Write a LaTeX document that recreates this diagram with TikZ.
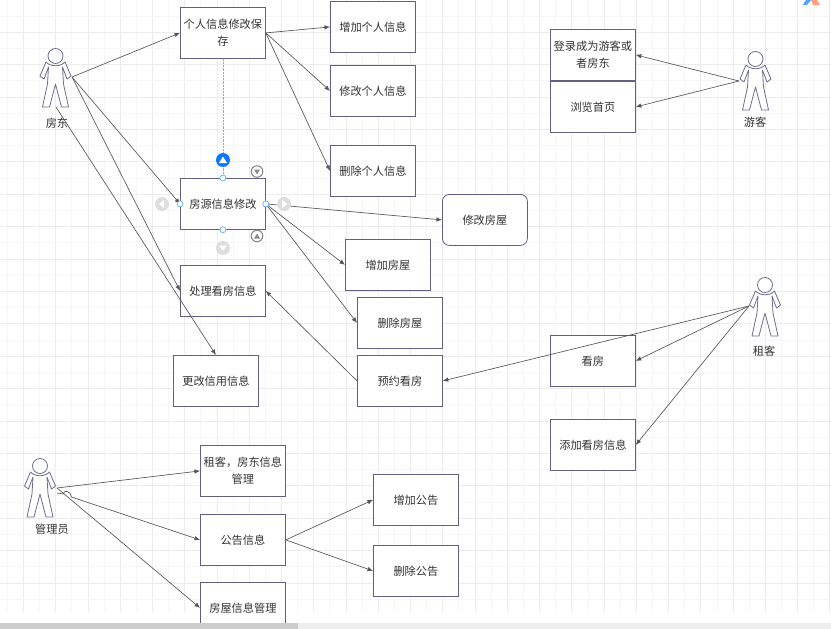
\documentclass[tikz,border=0pt]{standalone}
\usepackage{fontspec}
\setmainfont{Noto Sans CJK SC}
\usetikzlibrary{arrows.meta}
\definecolor{gridl}{RGB}{246,246,248}
\definecolor{gridd}{RGB}{236,236,239}
\definecolor{boxc}{RGB}{96,96,130}
\definecolor{linec}{RGB}{85,85,85}
\definecolor{actorc}{RGB}{110,110,145}
\definecolor{handle}{RGB}{100,170,255}
\definecolor{handlebig}{RGB}{10,120,255}
\tikzset{
  box/.style={draw=boxc,line width=.8pt,fill=white,minimum width=85pt,minimum height=51pt,inner sep=2pt,align=center,font=\fontsize{11.2}{16.5}\selectfont,text=black!80,anchor=north west},
  rbox/.style={box,rounded corners=7pt},
  conn/.style={draw=linec,line width=.65pt,-{Latex[length=5.5pt,width=4.5pt]}},
  actorlabel/.style={font=\fontsize{11.2}{14}\selectfont,text=black!80},
  dot/.style={circle,draw=handle,fill=white,line width=.7pt,minimum size=6pt,inner sep=0pt},
  greyc/.style={circle,fill=black!13,minimum size=14pt,inner sep=0pt},
  ringc/.style={circle,draw=black!45,line width=1.1pt,fill=white,minimum size=11.5pt,inner sep=0pt},
}
\newcommand{\actor}[3]{% x y name, at the centre of the head
 \begin{scope}[shift={(#1,#2)}]
  \draw[actorc,line width=.8pt,fill=white,line join=round]
   (-9.5,6) -- (-15.5,20) -- (-11.5,23) -- (-7,11) -- (-8,28) -- (-13,51) -- (-6,51) -- (0,28) -- (6,51) -- (13,51) -- (8,28) -- (7,11) -- (11.5,23) -- (15.5,20) -- (9.5,6) .. controls (5,11) and (-5,11) .. (-9.5,6) -- cycle;
  \draw[actorc,line width=.8pt,fill=white] (0,0) circle (7.5);
  \coordinate (#3) at (0,0);
 \end{scope}}
\begin{document}
\begin{tikzpicture}[x=1pt,y=-1pt]
\useasboundingbox (0,0) rectangle (831,629);
\fill[white] (0,0) rectangle (831,629);
% grid
\foreach \i in {0,...,51}{
  \pgfmathsetmacro{\xx}{7.2+16.13*\i}
  \pgfmathsetmacro{\isodd}{int(mod(\i,2))}
  \ifnum\isodd=1 \draw[gridd,line width=.7pt] (\xx,0) -- (\xx,612); \else \draw[gridl,line width=.7pt] (\xx,0) -- (\xx,612); \fi
}
\foreach \i in {0,...,37}{
  \pgfmathsetmacro{\yy}{-0.2+16.2*\i}
  \pgfmathsetmacro{\isodd}{int(mod(\i,2))}
  \ifnum\isodd=0 \draw[gridd,line width=.7pt] (0,\yy) -- (831,\yy); \else \draw[gridl,line width=.7pt] (0,\yy) -- (831,\yy); \fi
}
% scroll bar
\fill[black!7] (0,623) rectangle (831,629);
\fill[black!20] (0,623) rectangle (298,629);
% logo
\fill[handlebig!70] (803,5) -- (806,0) -- (811,0) -- (807,5) -- cycle;
\fill[red!50!orange!50] (811,0) -- (817,0) -- (820,5) -- (813,5) -- cycle;
% boxes
\node[box] (grxg) at (180,7) {个人信息修改保\\存};
\node[box] (zjgr) at (330,1) {增加个人信息};
\node[box] (xggr) at (330,65) {修改个人信息};
\node[box] (scgr) at (330,145) {删除个人信息};
\node[box] (fyxg) at (180,178) {房源信息修改};
\node[rbox] (xgfw) at (442,194) {修改房屋};
\node[box] (zjfw) at (345,239) {增加房屋};
\node[box] (scfw) at (357,297) {删除房屋};
\node[box] (clkf) at (180,265) {处理看房信息};
\node[box] (yykf) at (357,355) {预约看房};
\node[box] (ghxy) at (173,355) {更改信用信息};
\node[box] (dlcw) at (550,29) {登录成为游客或\\者房东};
\node[box] (llsy) at (550,81) {浏览首页};
\node[box] (kf) at (550,335) {看房};
\node[box] (tjkf) at (550,419) {添加看房信息};
\node[box] (zkfd) at (200,445) {租客，房东信息\\管理};
\node[box] (ggxx) at (200,514) {公告信息};
\node[box] (zjgg) at (373,474) {增加公告};
\node[box] (scgg) at (373,545) {删除公告};
\begin{scope}
\clip (190,575) rectangle (300,622.5);
\node[box] (fwgl) at (200,582) {房屋信息管理};
\end{scope}
% actors
\actor{55.5}{56}{afd}
\actor{755.5}{59}{ayk}
\actor{765}{285}{azk}
\actor{40}{466}{agl}
\node[actorlabel] (lfd) at (57,123) {房东};
\node[actorlabel] (lyk) at (755,122) {游客};
\node[actorlabel] (lzk) at (764,351) {租客};
\node[actorlabel] (lgl) at (52,529) {管理员};
\coordinate (cfd) at (72,77);
\coordinate (cfd2) at (56,107);
\coordinate (cyk) at (739,81);
\coordinate (czk) at (749,306);
\coordinate (cgl) at (57,488);
\coordinate (cgl2) at (57,493);
% connectors
\draw[conn] (cfd) -- (grxg.west);
\draw[conn] (cfd) -- (fyxg.west);
\draw[conn] (cfd) -- (clkf.west);
\draw[conn] (cfd2) -- (ghxy.north);
\draw[conn] (grxg.east) -- (zjgr.west);
\draw[conn] (grxg.east) -- (xggr.west);
\draw[conn] (grxg.east) -- (scgr.west);
\draw[draw=black!35,line width=.45pt,densely dotted] (grxg.south) -- (fyxg.north);
\draw[conn] (fyxg.east) -- (xgfw.west);
\draw[conn] (fyxg.east) -- (zjfw.west);
\draw[conn] (fyxg.east) -- (scfw.west);
\draw[conn] (yykf.west) -- (clkf.east);
\draw[conn] (cyk) -- (dlcw.east);
\draw[conn] (cyk) -- (llsy.east);
\draw[conn] (czk) -- (kf.east);
\draw[conn] (czk) -- (tjkf.east);
\draw[conn] (czk) -- (yykf.east);
\draw[conn] (cgl) -- (zkfd.west);
\draw[conn] (cgl2) -- ++(6,1) .. controls (64,490) and (70,490) .. (71.5,497) -- (ggxx.west);
\draw[conn] (cgl) -- (fwgl.west);
\draw[conn] (ggxx.east) -- (zjgg.west);
\draw[conn] (ggxx.east) -- (scgg.west);
% selection handles
\node[dot] (h1) at (fyxg.north) {};
\node[dot] (h2) at (fyxg.south) {};
\node[dot] (h3) at (fyxg.west) {};
\node[dot] (h4) at (fyxg.east) {};
\node[circle,fill=handlebig,minimum size=14pt,inner sep=0pt] (h5) at (223,160) {};
\fill[white] (219,163) -- (227,163) -- (223,156.5) -- cycle;
\node[greyc] (h6) at (162,204) {};
\fill[white] (164,200) -- (164,208) -- (159,204) -- cycle;
\node[greyc] (h7) at (284,204) {};
\fill[white] (282,200) -- (282,208) -- (287,204) -- cycle;
\node[greyc] (h8) at (223,248) {};
\fill[white] (219,245.5) -- (227,245.5) -- (223,251) -- cycle;
\node[ringc] (h9) at (257,171.5) {};
\fill[black!45] (254,169.5) -- (260,169.5) -- (257,174.5) -- cycle;
\node[ringc] (h10) at (257,236) {};
\fill[black!45] (254,238.5) -- (260,238.5) -- (257,233.5) -- cycle;
\end{tikzpicture}
\end{document}
